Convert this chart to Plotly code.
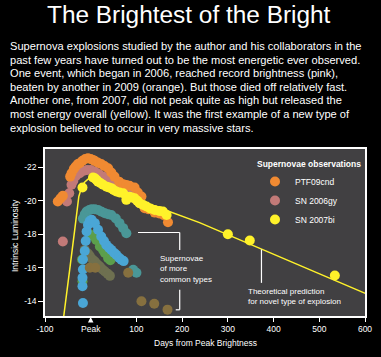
import plotly.graph_objects as go

# ---------------- data ----------------
ptf_days = [-72, -66, -61, -45, -42, -37, -33, -28, -24, -18, -12, -6, 0, 5, 9, 15, 23, 30, 38, 45,
            52, 62, 71, 78, 85, 96, 103, 111, 118, 126, 140, 150, 160, 169]
ptf_mag = [-19.96, -20.15, -20.3, -21.45, -21.65, -21.9, -22.05, -22.2, -22.25, -22.4, -22.5, -22.55,
           -22.5, -22.45, -22.38, -22.3, -22.2, -22.08, -21.95, -21.7, -21.45, -21.15, -21.0, -20.95,
           -20.9, -20.8, -20.5, -20.26, -19.56, -19.5, -19.3, -19.25, -19.15, -18.72]

gy_days = [-61, -52, -47, -42, -38, -32, -24, -15, -8, 0, 9, 18, 27, 36, 45, 52, 60, 70, 78, 85,
           93, 100, 107]
gy_mag = [-17.57, -19.96, -20.46, -20.96, -21.2, -21.5, -21.65, -21.8, -21.85, -21.85, -21.75, -21.6,
          -21.45, -21.3, -21.15, -21.05, -20.95, -20.75, -20.56, -20.4, -20.26, -20.05, -19.86]

bi_days = [-18, 5, 9, 13, 16, 22, 27, 35, 40, 45, 50, 56, 63, 71, 78, 85, 90, 96, 102, 107, 115,
           122, 130, 140, 150, 158, 166, 300, 348, 534]
bi_mag = [-20.8, -21.4, -21.35, -21.25, -21.15, -21.05, -20.96, -20.85, -20.8, -20.76, -20.65,
          -20.56, -20.5, -20.46, -20.06, -20.25, -20.2, -20.16, -20.0, -19.86, -19.75, -19.66,
          -19.55, -19.46, -19.4, -19.36, -19.16, -18.01, -17.63, -15.54]

theory_days = [-60, -57, -45, -35, -26, -20, -14, -6, 4, 15, 30, 60, 100, 129, 238, 400, 596, 620]
theory_mag = [-12.9, -13.6, -16.1, -18.27, -20.26, -20.8, -21.1, -21.3, -21.4, -21.3, -21.1, -20.7,
              -20.15, -19.8, -18.7, -16.8, -14.5, -14.25]

teal_days = [-17, -13, -9, -3, 2, 9, 16, 24, 31, 38, 45, 55, 63, 71, 78, 93, 100]
teal_mag = [-18.94, -19.2, -19.36, -19.45, -19.5, -19.5, -19.46, -19.35, -19.26, -19.2, -19.16,
            -18.95, -18.67, -18.37, -18.07, -15.88, -15.7]

blue_days = [-17, -18, -18, -17, -17, -13, -11, -9, -6, -2, 2, 9, 16, 23, 29, 34, 40, 45, 51, 56,
             62, 67, 72]
blue_mag = [-13.9, -14.9, -15.4, -15.9, -16.5, -17.0, -17.6, -18.17, -18.57, -18.8, -18.87, -18.67,
            -18.27, -17.87, -17.6, -17.37, -17.2, -17.07, -16.9, -16.78, -16.6, -16.48, -16.4]

green_days = [-19, -18, -2, 5, 12, 20, 27, 31, 38, 43]
green_mag = [-16.5, -15.2, -18.0, -17.9, -17.67, -17.27, -17.07, -16.88, -16.58, -16.45]

olive_days = [-13, -6, -2, 4, 9, 15, 20, 26, 31, 37, 42]
olive_mag = [-17.07, -16.85, -16.7, -16.5, -16.38, -16.2, -16.08, -15.9, -15.78, -15.65, -15.52]

brown_days = [-2, 10, 82, 111, 139, 168]
brown_mag = [-16.0, -16.0, -15.7, -14.0, -13.85, -13.5]

x_tickvals = [-100, 0, 100, 200, 300, 400, 500, 600]
x_ticktext = ["-100", "Peak", "100", "200", "300", "400", "500", "600"]
y_tickvals = [-22, -20, -18, -16, -14]
y_ticktext = ["-22", "-20", "-18", "-16", "-14"]

title_text = "The Brightest of the Bright"
para_lines = [
    "Supernova explosions studied by the author and his collaborators in the",
    "past few years have turned out to be the most energetic ever observed.",
    "One event, which began in 2006, reached record brightness (pink),",
    "beaten by another in 2009 (orange). But those died off relatively fast.",
    "Another one, from 2007, did not peak quite as high but released the",
    "most energy overall (yellow). It was the first example of a new type of",
    "explosion believed to occur in very massive stars.",
]

# ---------------- styling ----------------
FONT = "Liberation Sans, Arial, sans-serif"
W, H = 381, 357
L, R, T, B = 45, 365, 149, 316
LBL = 8.5


def fx(px):
    return (px - L) / (R - L)


def fy(py):
    return (B - py) / (B - T)


fig = go.Figure()

common = [
    (teal_days, teal_mag, "#4a9797"),
    (olive_days, olive_mag, "#6e7050"),
    (green_days, green_mag, "#5c9e4c"),
    (blue_days, blue_mag, "#4aa6d6"),
    (brown_days, brown_mag, "#86703f"),
]
for xd, yd, col in common:
    fig.add_trace(go.Scatter(x=xd, y=yd, mode="markers", showlegend=False,
                             marker=dict(size=10, color=col, line=dict(width=0))))

fig.add_trace(go.Scatter(x=gy_days, y=gy_mag, mode="markers", name="SN 2006gy", legendrank=2,
                         marker=dict(size=10, color="#c27a78", line=dict(width=0))))
fig.add_trace(go.Scatter(x=ptf_days, y=ptf_mag, mode="markers", name="PTF09cnd", legendrank=1,
                         marker=dict(size=10, color="#f08a32", line=dict(width=0))))
fig.add_trace(go.Scatter(x=theory_days, y=theory_mag, mode="lines", showlegend=False,
                         line=dict(color="#fff22a", width=1.5)))
fig.add_trace(go.Scatter(x=bi_days, y=bi_mag, mode="markers", name="SN 2007bi", legendrank=3,
                         marker=dict(size=10, color="#fff22a", line=dict(width=0))))

annotations = []
annotations.append(dict(text=title_text, x=fx(189), y=fy(15), xref="paper", yref="paper",
                        showarrow=False, xanchor="center", yanchor="middle",
                        font=dict(family=FONT, size=24.4, color="white")))
for i, line in enumerate(para_lines):
    annotations.append(dict(text=line, x=fx(8), y=fy(46 + 13.6 * i), xref="paper", yref="paper",
                            showarrow=False, xanchor="left", yanchor="middle",
                            font=dict(family=FONT, size=11.1, color="white")))
annotations.append(dict(text="Intrinsic Luminosity", x=fx(15), y=fy(236), xref="paper",
                        yref="paper", textangle=-90, showarrow=False, xanchor="center",
                        yanchor="middle", font=dict(family=FONT, size=LBL, color="white")))
annotations.append(dict(text="Days from Peak Brightness", x=fx(205), y=fy(343), xref="paper",
                        yref="paper", showarrow=False, xanchor="center", yanchor="middle",
                        font=dict(family=FONT, size=LBL, color="white")))
annotations.append(dict(text="Supernovae<br>of more<br>common types", x=146.6, y=-15.9,
                        xref="x", yref="y", showarrow=False, xanchor="left", yanchor="middle",
                        align="left", font=dict(family=FONT, size=8, color="white")))
annotations.append(dict(text="Theoretical prediction<br>for novel type of explosion", x=339,
                        y=-14.3, xref="x", yref="y", showarrow=False, xanchor="left",
                        yanchor="middle", align="left",
                        font=dict(family=FONT, size=8, color="white")))

line_style = dict(color="white", width=1.2)
shapes = [
    dict(type="line", xref="x", yref="y", x0=103.5, y0=-18.11, x1=194.7, y1=-18.11, line=line_style),
    dict(type="line", xref="x", yref="y", x0=194.7, y0=-18.11, x1=194.7, y1=-17.07, line=line_style),
    dict(type="line", xref="x", yref="y", x0=194.7, y0=-14.69, x1=194.7, y1=-13.49, line=line_style),
    dict(type="line", xref="x", yref="y", x0=186, y0=-13.49, x1=194.7, y1=-13.49, line=line_style),
    dict(type="line", xref="x", yref="y", x0=373.5, y0=-17.1, x1=373.5, y1=-15.1, line=line_style),
    dict(type="path", xref="x", yref="paper",
         path=f"M -6 {fy(322.5)} L 6 {fy(322.5)} L 0 {fy(317)} Z",
         fillcolor="white", line=dict(width=0)),
]

fig.update_layout(
    width=W, height=H,
    margin=dict(l=L, r=W - R, t=T, b=H - B, pad=0, autoexpand=False),
    paper_bgcolor="black", plot_bgcolor="#414042",
    font=dict(family=FONT, color="white", size=LBL),
    showlegend=True,
    legend=dict(x=fx(255), y=fy(156), xanchor="left", yanchor="top",
                bgcolor="rgba(0,0,0,0)", borderwidth=0,
                font=dict(family=FONT, size=8.5, color="white"),
                title=dict(text="<b>Supernovae observations</b>", side="top",
                           font=dict(family=FONT, size=8.5, color="white")),
                itemsizing="trace", tracegroupgap=0),
    annotations=annotations,
    shapes=shapes,
    xaxis=dict(range=[-100, 600], tickvals=x_tickvals, ticktext=x_ticktext,
               showgrid=False, zeroline=False, showline=True, linecolor="white",
               linewidth=1.5, mirror=True, ticks="outside", ticklen=4, tickcolor="white",
               tickwidth=1, tickfont=dict(family=FONT, size=LBL, color="white")),
    yaxis=dict(range=[-13.12, -23.1], tickvals=y_tickvals, ticktext=y_ticktext,
               showgrid=False, zeroline=False, showline=True, linecolor="white",
               linewidth=1.5, mirror=True, ticks="outside", ticklen=5, tickcolor="white",
               tickwidth=1, tickfont=dict(family=FONT, size=LBL, color="white")),
)

fig.write_html("out.html", config={"displayModeBar": False},
               post_script="document.body.style.margin='0px';document.body.style.overflow='hidden';document.body.style.background='black';")
